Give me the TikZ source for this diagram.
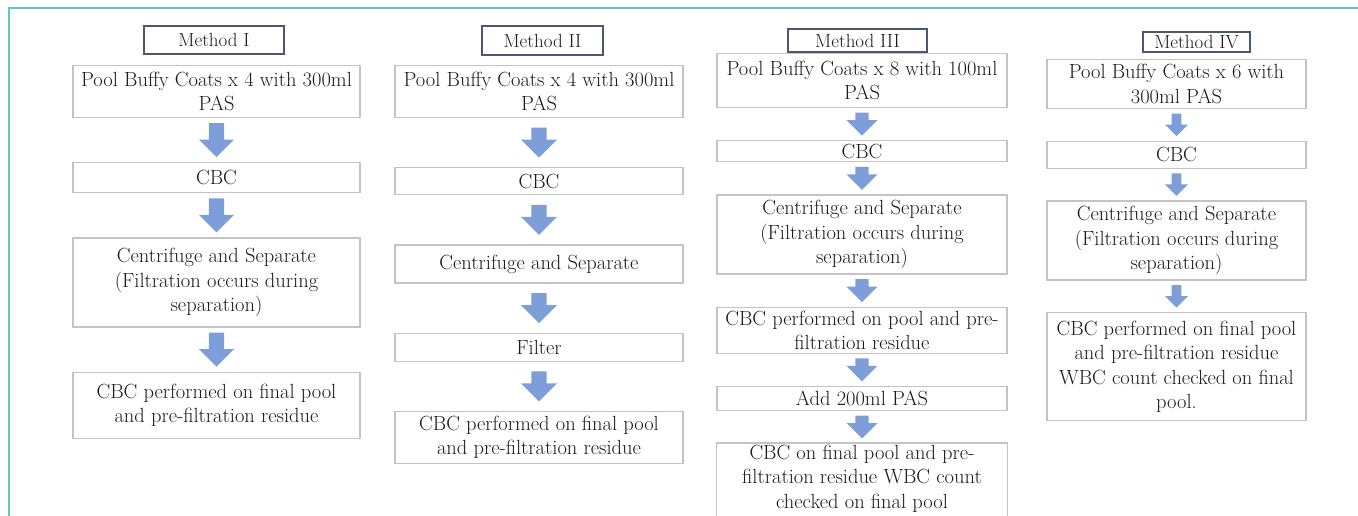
\documentclass[tikz,border=0pt]{standalone}
\usepackage{tikz}
\usetikzlibrary{calc,positioning}
\definecolor{frameteal}{HTML}{5EC9B8}
\definecolor{boxgray}{HTML}{C4C4C4}
\definecolor{titleslate}{HTML}{4A5870}
\definecolor{arrowblue}{HTML}{7E9ED9}
\definecolor{inkgray}{HTML}{1A1A1A}

\begin{document}
\begin{tikzpicture}
      [x=1pt,y=-1pt,
      every node/.style={align=center,text=inkgray,font=\fontsize{20.5}{24.5}\selectfont},
      stepbox/.style={draw=boxgray,line width=1.2pt,inner sep=1pt},
      methodbox/.style={draw=titleslate,line width=1.2pt,inner sep=0pt,font=\fontsize{19}{22}\selectfont},
      flow/.style args={#1/#2}{fill=arrowblue,to path={let \p1=(\tikztostart),\p2=(\tikztotarget) in
        (\x1-0.43*#1,\y1-#2) -- (\x1+0.43*#1,\y1-#2) -- (\x1+0.43*#1,\y2+#2+#1) -- (\x1+#1,\y2+#2+#1)
        -- (\x1,\y2+#2) -- (\x1-#1,\y2+#2+#1) -- (\x1-0.43*#1,\y2+#2+#1) -- cycle}}]
      \useasboundingbox (0,0) rectangle (1358,516);
      \clip (0,0) rectangle (1358,516);
      \draw[frameteal,line width=1.5pt] (1358,8) -- (9,8) -- (9,516);

   \begin{scope}[node distance=44pt,stepbox/.append style={minimum width=287pt}]
      \node[methodbox,minimum width=140pt,minimum height=28pt] (m1) at (214,40) {Method I};
      \node[stepbox,minimum height=52pt,anchor=north] (m1pool) at (216.5,65) {Pool Buffy Coats x 4 with 300ml\\PAS};
      \node[stepbox,minimum height=30pt,below=of m1pool] (m1cbc) {CBC};
      \node[stepbox,minimum height=89pt,below=of m1cbc] (m1spin) {Centrifuge and Separate\\(Filtration occurs during\\separation)};
      \node[stepbox,minimum height=66pt,below=of m1spin] (m1final) {CBC performed on final pool\\and pre-filtration residue};
      \path[flow=17.5pt/5pt] (m1pool.south) to (m1cbc.north);
      \path[flow=17.5pt/5pt] (m1cbc.south) to (m1spin.north);
      \path[flow=17.5pt/5pt] (m1spin.south) to (m1final.north);
   \end{scope}

   \begin{scope}[node distance=49pt,stepbox/.append style={minimum width=288pt}]
      \node[methodbox,minimum width=121pt,minimum height=29pt] (m2) at (542.5,40.5) {Method II};
      \node[stepbox,minimum height=52pt,anchor=north] (m2pool) at (539,65) {Pool Buffy Coats x 4 with 300ml\\PAS};
      \node[stepbox,minimum height=27pt,below=of m2pool] (m2cbc) {CBC};
      \node[stepbox,minimum height=38pt,below=of m2cbc] (m2spin) {Centrifuge and Separate};
      \node[stepbox,minimum height=28pt,below=of m2spin] (m2filter) {Filter};
      \node[stepbox,minimum height=52pt,below=of m2filter] (m2final) {CBC performed on final pool\\and pre-filtration residue};
      \path[flow=18pt/9.5pt] (m2pool.south) to (m2cbc.north);
      \path[flow=18pt/9.5pt] (m2cbc.south) to (m2spin.north);
      \path[flow=18pt/9.5pt] (m2spin.south) to (m2filter.north);
      \path[flow=18pt/9.5pt] (m2filter.south) to (m2final.north);
   \end{scope}

   \begin{scope}[node distance=32pt,stepbox/.append style={minimum width=290pt}]
      \node[methodbox,minimum width=139pt,minimum height=23pt] (m3) at (857.5,40.5) {Method III};
      \node[stepbox,minimum height=54pt,anchor=north] (m3pool) at (862,53) {Pool Buffy Coats x 8 with 100ml\\PAS};
      \node[stepbox,minimum height=21pt,below=of m3pool] (m3cbc) {CBC};
      \node[stepbox,minimum height=79pt,below=of m3cbc] (m3spin) {Centrifuge and Separate\\(Filtration occurs during\\separation)};
      \node[stepbox,minimum height=46pt,below=of m3spin] (m3check) {CBC performed on pool and pre-\\filtration residue};
      \node[stepbox,minimum height=24pt,below=of m3check] (m3pas) {Add 200ml PAS};
      \node[stepbox,draw=none,minimum height=70pt,below=of m3pas] (m3final) {CBC on final pool and pre-\\filtration residue WBC count\\checked on final pool};
      \draw[boxgray,line width=1.2pt] (m3final.north west) rectangle ([yshift=-16pt]m3final.south east);
      \path[flow=15.5pt/4.5pt] (m3pool.south) to (m3cbc.north);
      \path[flow=15.5pt/4.5pt] (m3cbc.south) to (m3spin.north);
      \path[flow=15.5pt/4.5pt] (m3spin.south) to (m3check.north);
      \path[flow=15.5pt/4.5pt] (m3check.south) to (m3pas.north);
      \path[flow=15.5pt/4.5pt] (m3pas.south) to (m3final.north);
   \end{scope}

   \begin{scope}[node distance=31.5pt,stepbox/.append style={minimum width=259pt}]
      \node[methodbox,minimum width=107pt,minimum height=20pt] (m4) at (1196.5,42) {Method IV};
      \node[stepbox,minimum height=49pt,anchor=north] (m4pool) at (1176.5,59) {Pool Buffy Coats x 6 with\\300ml PAS};
      \node[stepbox,minimum height=27pt,below=of m4pool] (m4cbc) {CBC};
      \node[stepbox,minimum height=79pt,below=of m4cbc] (m4spin) {Centrifuge and Separate\\(Filtration occurs during\\separation)};
      \node[stepbox,minimum height=108pt,below=of m4spin] (m4final) {CBC performed on final pool\\and pre-filtration residue\\WBC count checked on final\\pool.};
      \path[flow=11.5pt/4.5pt] (m4pool.south) to (m4cbc.north);
      \path[flow=11.5pt/4.5pt] (m4cbc.south) to (m4spin.north);
      \path[flow=11.5pt/4.5pt] (m4spin.south) to (m4final.north);
   \end{scope}
\end{tikzpicture}
\end{document}
